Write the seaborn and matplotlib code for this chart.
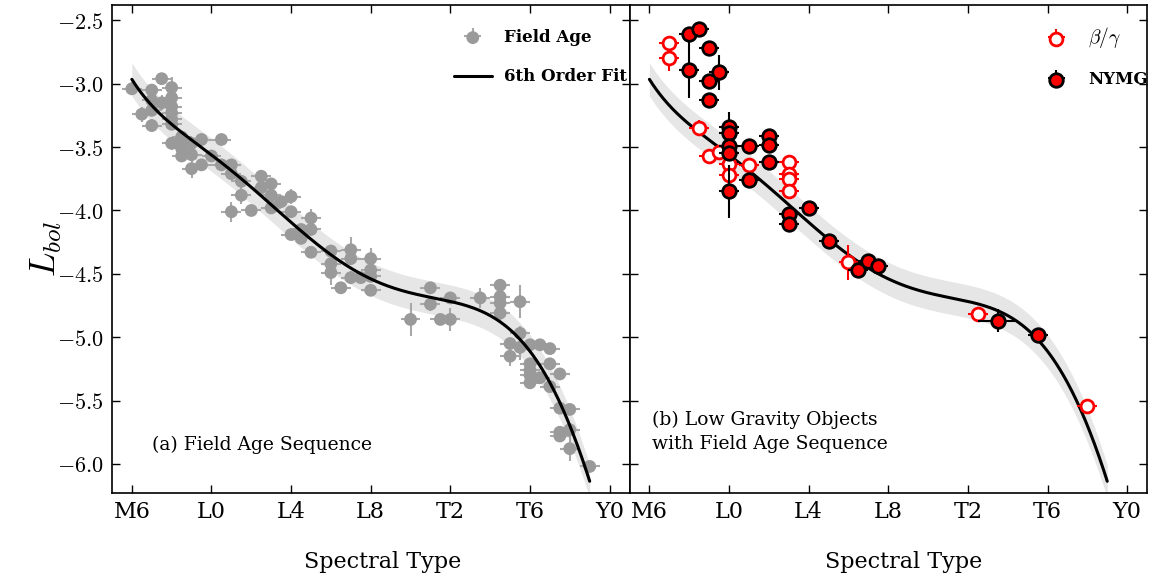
import numpy as np
import pandas as pd
import matplotlib
matplotlib.use("Agg")
import matplotlib.pyplot as plt
import seaborn as sns

# ---------------- data (spectral type: M6=6, L0=10, T0=20, Y0=30) ----------------
tick_pos = [6, 10, 14, 18, 22, 26, 30]
tick_lab = ["M6", "L0", "L4", "L8", "T2", "T6", "Y0"]
ytick_pos = [-2.5, -3.0, -3.5, -4.0, -4.5, -5.0, -5.5, -6.0]
ytick_lab = ["$-2.5$", "$-3.0$", "$-3.5$", "$-4.0$", "$-4.5$", "$-5.0$", "$-5.5$", "$-6.0$"]

field_x = [6, 6.5, 7, 7, 7, 7, 7.5, 7.5, 8, 8, 8, 8, 8, 8, 8, 8.5, 8.5, 8.5, 9, 9, 9,
           9.5, 9.5, 10, 10.5, 10.5, 11, 11, 11, 11.5, 11.5, 12, 12.5, 12.5, 13, 13, 13,
           13.5, 14, 14, 14, 14.5, 14.5, 15, 15, 15, 16, 16, 16, 16.5, 17, 17, 17, 17.5,
           18, 18, 18, 18, 20, 21, 21, 21.5, 22, 22, 23.5, 24.5, 24.5, 24.5, 24.5, 25.5,
           25, 25, 25.5, 25.5, 26, 26, 26, 26, 26, 26.5, 26.5, 27, 27, 27, 27.5, 27.5, 28,
           27.5, 27.5, 28, 28, 29]
field_y = [-3.04, -3.24, -3.05, -3.13, -3.21, -3.33, -2.96, -3.15, -3.03, -3.11, -3.18,
           -3.23, -3.28, -3.32, -3.47, -3.42, -3.51, -3.57, -3.47, -3.56, -3.67, -3.44,
           -3.64, -3.57, -3.44, -3.64, -3.64, -3.71, -4.01, -3.77, -3.88, -4.00, -3.73,
           -3.82, -3.79, -3.88, -3.98, -3.93, -3.89, -4.01, -4.19, -4.15, -4.22, -4.06,
           -4.15, -4.33, -4.32, -4.42, -4.49, -4.61, -4.31, -4.38, -4.53, -4.53, -4.38,
           -4.47, -4.52, -4.63, -4.86, -4.61, -4.74, -4.86, -4.69, -4.86, -4.69, -4.59,
           -4.68, -4.73, -4.81, -4.72, -5.05, -5.15, -4.97, -5.08, -5.06, -5.21, -5.26,
           -5.30, -5.36, -5.06, -5.32, -5.09, -5.21, -5.39, -5.29, -5.56, -5.57, -5.75,
           -5.78, -5.73, -5.88, -6.02]
field_yerr = [0.05, 0.06, 0.04, 0.04, 0.04, 0.05, 0.04, 0.06, 0.08, 0.04, 0.04, 0.04,
              0.04, 0.04, 0.05, 0.04, 0.04, 0.04, 0.05, 0.04, 0.07, 0.04, 0.04, 0.04,
              0.04, 0.04, 0.04, 0.04, 0.08, 0.04, 0.07, 0.04, 0.04, 0.04, 0.04, 0.04,
              0.04, 0.04, 0.06, 0.04, 0.04, 0.04, 0.04, 0.07, 0.04, 0.04, 0.05, 0.04,
              0.10, 0.04, 0.10, 0.04, 0.05, 0.04, 0.08, 0.04, 0.04, 0.04, 0.13, 0.04,
              0.05, 0.04, 0.04, 0.09, 0.08, 0.04, 0.04, 0.04, 0.06, 0.13, 0.04, 0.08,
              0.06, 0.10, 0.04, 0.04, 0.04, 0.04, 0.04, 0.04, 0.04, 0.04, 0.04, 0.04,
              0.04, 0.04, 0.04, 0.05, 0.04, 0.04, 0.10, 0.04]
field_xerr = [0.5] * len(field_x)

beta_x = [7, 7, 8.5, 9, 9.5, 10, 10, 11, 13, 13, 13, 13, 16, 22.5, 28]
beta_y = [-2.68, -2.80, -3.35, -3.57, -3.54, -3.63, -3.72, -3.64, -3.62, -3.71, -3.75,
          -3.85, -4.41, -4.82, -5.54]
beta_yerr = [0.04, 0.10, 0.06, 0.04, 0.04, 0.04, 0.05, 0.04, 0.06, 0.04, 0.04, 0.06,
             0.14, 0.03, 0.03]
beta_xerr = [0.5] * len(beta_x)

nymg_x = [8, 8, 8.5, 9, 9.5, 9, 9, 10, 10, 10, 10, 10, 11, 11, 12, 12, 12, 13, 13, 14,
          15, 16.5, 17, 17.5, 23.5, 25.5]
nymg_y = [-2.61, -2.89, -2.57, -2.72, -2.91, -2.98, -3.13, -3.34, -3.39, -3.49, -3.55,
          -3.85, -3.49, -3.76, -3.41, -3.48, -3.62, -4.03, -4.11, -3.98, -4.24, -4.47,
          -4.40, -4.44, -4.87, -4.98]
nymg_yerr = [0.04, 0.22, 0.03, 0.05, 0.14, 0.04, 0.05, 0.12, 0.04, 0.04, 0.04, 0.21,
             0.03, 0.04, 0.05, 0.04, 0.04, 0.04, 0.04, 0.03, 0.03, 0.04, 0.03, 0.03,
             0.09, 0.04]
nymg_xerr = [0.5] * 24 + [1.0, 0.5]

fit_range = (6, 29)
fit_order = 6
fit_band = 0.13

# ---------------- style ----------------
sns.set_style("ticks")
plt.rcParams["font.family"] = ["DejaVu Serif"]
plt.rcParams["mathtext.fontset"] = "cm"
for k in ["text.color", "axes.labelcolor", "xtick.color", "ytick.color", "axes.edgecolor"]:
    plt.rcParams[k] = "black"

field = pd.DataFrame({"spt": field_x, "lbol": field_y})
poly = np.polynomial.Polynomial.fit(field["spt"], field["lbol"], fit_order)
fx = np.linspace(fit_range[0], fit_range[1], 400)
fit = pd.DataFrame({"spt": fx, "lbol": poly(fx)})

fig, axes = plt.subplots(1, 2, figsize=(11.54, 5.76), dpi=100, sharey=True)
fig.subplots_adjust(left=0.097, right=0.994, top=0.991, bottom=0.144, wspace=0)

for ax in axes:
    ax.fill_between(fit["spt"], fit["lbol"] - fit_band, fit["lbol"] + fit_band,
                    color="#e6e6e6", lw=0, zorder=1)

# ---- panel a ----
ax = axes[0]
err_f = ax.errorbar(field_x, field_y, xerr=field_xerr, yerr=field_yerr, fmt="none",
                    ecolor="#a8a8a8", elinewidth=1.5, zorder=2)
sns.scatterplot(data=field, x="spt", y="lbol", ax=ax, color="#9a9a9a", s=85,
                edgecolor="none", zorder=3, legend=False)
sc_f = ax.collections[-1]
sns.lineplot(data=fit, x="spt", y="lbol", ax=ax, color="black", lw=2.2, zorder=4)
line_f = ax.lines[-1]
ax.legend([(err_f, sc_f), line_f], ["Field Age", "6th Order Fit"], frameon=False,
          loc="upper right", bbox_to_anchor=(1.025, 0.982), prop={"weight": "bold", "size": 12},
          handlelength=2.3, labelspacing=1.35, handletextpad=0.75)
ax.text(0.077, 0.098, "(a) Field Age Sequence", transform=ax.transAxes,
        fontsize=13.5, va="center", ha="left")

# ---- panel b ----
ax = axes[1]
sns.lineplot(data=fit, x="spt", y="lbol", ax=ax, color="black", lw=2.2, zorder=2)
err_b = ax.errorbar(beta_x, beta_y, xerr=beta_xerr, yerr=beta_yerr, fmt="none",
                    ecolor="red", elinewidth=1.5, zorder=3)
sns.scatterplot(x=beta_x, y=beta_y, ax=ax, color="white", edgecolor="red", linewidth=2,
                s=85, zorder=4, legend=False)
sc_b = ax.collections[-1]
err_n = ax.errorbar(nymg_x, nymg_y, xerr=nymg_xerr, yerr=nymg_yerr, fmt="none",
                    ecolor="black", elinewidth=1.5, zorder=5)
sns.scatterplot(x=nymg_x, y=nymg_y, ax=ax, color="red", edgecolor="black", linewidth=2,
                s=95, zorder=6, legend=False)
sc_n = ax.collections[-1]
leg = ax.legend([(err_b, sc_b), (err_n, sc_n)], [r"$\beta/\gamma$", "NYMG"], frameon=False,
                loc="upper right", bbox_to_anchor=(1.03, 0.99),
                prop={"weight": "bold", "size": 12},
                handlelength=2.3, labelspacing=1.25, handletextpad=0.75)
leg.get_texts()[0].set_fontsize(14)
ax.text(0.043, 0.125, "(b) Low Gravity Objects\nwith Field Age Sequence",
        transform=ax.transAxes, fontsize=13.5, va="center", ha="left", linespacing=1.45)

label_x = [0.523, 0.529]
for i, ax in enumerate(axes):
    ax.set_xlim(5, 31)
    ax.set_ylim(-6.23, -2.38)
    ax.set_xticks(tick_pos)
    ax.set_xticklabels(tick_lab)
    ax.set_yticks(ytick_pos)
    ax.set_yticklabels(ytick_lab)
    ax.tick_params(direction="in", top=True, right=True, length=6, width=1,
                   labelsize=16, pad=6)
    for s in ax.spines.values():
        s.set_linewidth(1.2)
    ax.set_xlabel("Spectral Type", fontsize=16, labelpad=20)
    ax.xaxis.label.set_x(label_x[i])
    ax.set_ylabel("")
axes[1].tick_params(labelleft=False)
axes[0].set_ylabel("$L_{bol}$", fontsize=26, labelpad=-5)

fig.savefig("out.png", dpi=100)
